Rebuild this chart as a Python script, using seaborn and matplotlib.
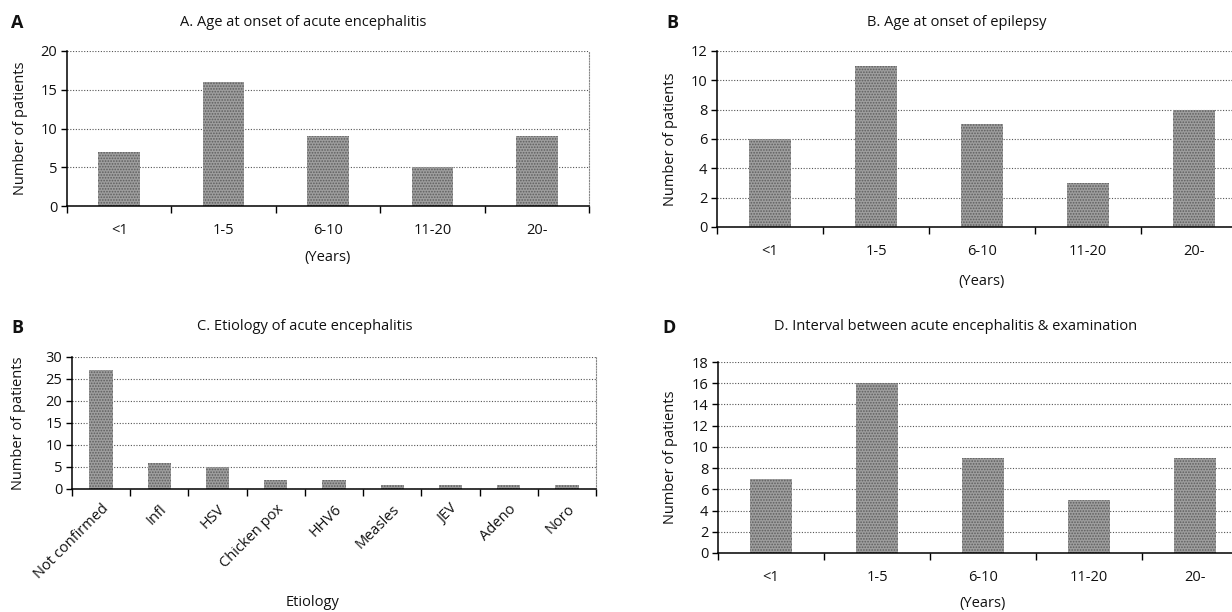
import numpy as np
import pandas as pd
import matplotlib
matplotlib.use("Agg")
import matplotlib.pyplot as plt
import seaborn as sns

# data
age_groups = ["<1", "1-5", "6-10", "11-20", "20-"]
onset_encephalitis = [7, 16, 9, 5, 9]
onset_epilepsy = [6, 11, 7, 3, 8]
etiology = ["Not confirmed", "Infl", "HSV", "Chicken pox", "HHV6",
            "Measles", "JEV", "Adeno", "Noro"]
etiology_counts = [27, 6, 5, 2, 2, 1, 1, 1, 1]
interval_exam = [7, 16, 9, 5, 9]

sns.set_theme(style="white")
plt.rcParams["font.family"] = ["Open Sans", "DejaVu Sans"]
plt.rcParams["text.color"] = "#111111"
plt.rcParams["hatch.linewidth"] = 0.8

BAR = "#9e9e9e"
HATCH_EDGE = "#5e5e5e"
FS = 10.5

fig = plt.figure(figsize=(12.32, 6.12), dpi=100)
W, H = 1232.0, 612.0


def add_axes(l, r, t, b):
    return fig.add_axes([l / W, 1 - b / H, (r - l) / W, (b - t) / H])


def draw_panel(ax, box, cats, vals, ymax, ystep, xlabel, xlab_xy, ylab_x,
               rotate=False):
    l, r, t, b = box
    df = pd.DataFrame({"cat": cats, "n": vals})
    sns.barplot(data=df, x="cat", y="n", ax=ax, color=BAR, width=0.4,
                saturation=1, linewidth=0)
    for p in ax.patches:
        p.set_hatch("......")
        p.set_edgecolor(HATCH_EDGE)
        p.set_linewidth(0)
    n = len(cats)
    ax.set_xlim(-0.5, n - 0.5)
    ax.set_ylim(0, ymax)
    ax.set_yticks(np.arange(0, ymax + 0.1, ystep))
    ax.yaxis.grid(True, color="#555555", linestyle=(0, (1, 1.5)), linewidth=0.8)
    ax.set_axisbelow(True)
    # ticks at category boundaries, labels at centers
    ax.set_xticks(np.arange(-0.5, n, 1.0))
    ax.set_xticklabels([])
    ax.set_xticks(np.arange(n), minor=True)
    if rotate:
        ax.set_xticklabels(cats, minor=True, rotation=45, ha="right",
                           rotation_mode="anchor", fontsize=FS)
        ax.tick_params(axis="x", which="minor", length=0, pad=9)
    else:
        ax.set_xticklabels(cats, minor=True, fontsize=FS)
        ax.tick_params(axis="x", which="minor", length=0, pad=12)
    ax.tick_params(axis="x", which="major", direction="out", length=5,
                   width=1, color="black", bottom=True)
    ax.tick_params(axis="y", direction="out", length=4, width=1,
                   color="black", left=True, labelsize=FS, pad=3,
                   labelcolor="#111111")
    ax.tick_params(axis="x", which="minor", labelcolor="#111111")
    for s in ["left", "bottom"]:
        ax.spines[s].set_color("black")
        ax.spines[s].set_linewidth(1.1)
    ax.spines["top"].set_visible(False)
    ax.spines["right"].set_color("#888888")
    ax.spines["right"].set_linestyle((0, (1, 1.5)))
    ax.spines["right"].set_linewidth(0.8)
    ax.set_xlabel(xlabel, fontsize=FS, va="center", color="#111111")
    ax.set_ylabel("Number of patients", fontsize=FS, va="center", color="#111111")
    # label positions given in figure pixels
    xx, xy = xlab_xy
    ax.xaxis.set_label_coords((xx - l) / (r - l), -(xy - b) / (b - t))
    ax.yaxis.set_label_coords(-(l - ylab_x) / (r - l), 0.5)


boxA = (67, 589, 51, 206)
boxB = (717, 1247, 51, 227)
boxC = (72, 596, 357, 489)
boxD = (718, 1248, 362, 553)

axA = add_axes(*boxA)
axB = add_axes(*boxB)
axC = add_axes(*boxC)
axD = add_axes(*boxD)

draw_panel(axA, boxA, age_groups, onset_encephalitis, 20, 5, "(Years)",
           (328, 258), 21)
draw_panel(axB, boxB, age_groups, onset_epilepsy, 12, 2, "(Years)",
           (982, 281), 671)
draw_panel(axC, boxC, etiology, etiology_counts, 30, 5, "Etiology",
           (313, 602), 19, rotate=True)
draw_panel(axD, boxD, age_groups, interval_exam, 18, 2, "(Years)",
           (983, 604), 670)


def fig_text(x, y, s, **kw):
    fig.text(x / W, 1 - y / H, s, va="center", **kw)


fig_text(303, 22, "A. Age at onset of acute encephalitis", ha="center", fontsize=FS)
fig_text(957, 22, "B. Age at onset of epilepsy", ha="center", fontsize=FS)
fig_text(305, 327, "C. Etiology of acute encephalitis", ha="center", fontsize=FS)
fig_text(956, 327, "D. Interval between acute encephalitis & examination", ha="center", fontsize=FS)

fig_text(11, 23, "A", ha="left", fontsize=13, fontweight="bold")
fig_text(666, 23, "B", ha="left", fontsize=13, fontweight="bold")
fig_text(11, 328, "B", ha="left", fontsize=13, fontweight="bold")
fig_text(662, 328, "D", ha="left", fontsize=13, fontweight="bold")

fig.savefig("out.png", dpi=100, facecolor="white")
